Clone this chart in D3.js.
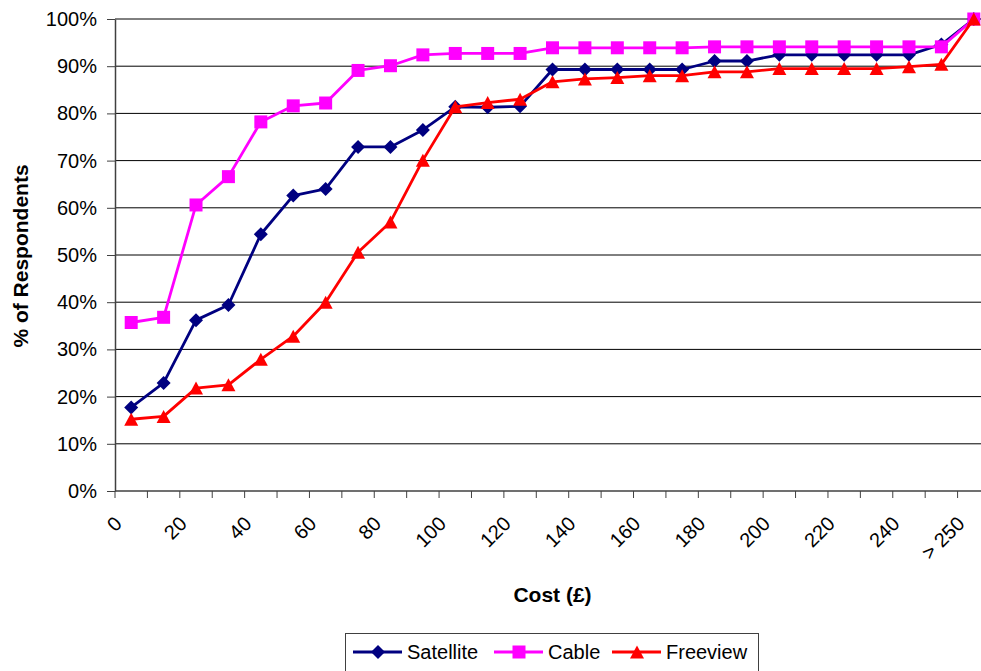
<!DOCTYPE html>
<html>
<head>
<meta charset="utf-8">
<script src="https://cdn.jsdelivr.net/npm/d3@7"></script>
<style>
  body { margin: 0; background: #fff; }
  svg { display: block; font-family: Arial, "Liberation Sans", sans-serif; }
</style>
</head>
<body>
<div id="chart"></div>
<script>
// categories on the cost axis (every other one gets a label)
var categories = ["0","10","20","30","40","50","60","70","80","90","100","110","120","130",
  "140","150","160","170","180","190","200","210","220","230","240","250","> 250"];

var satellite = [17.7, 22.9, 36.2, 39.4, 54.4, 62.6, 64.0, 72.9, 72.9, 76.5, 81.4, 81.3, 81.5,
  89.3, 89.3, 89.3, 89.3, 89.3, 91.1, 91.1, 92.4, 92.4, 92.4, 92.4, 92.4, 94.6, 100];
var cable = [35.7, 36.8, 60.6, 66.6, 78.2, 81.6, 82.2, 89.1, 90.1, 92.4, 92.7, 92.7, 92.7,
  93.9, 93.9, 93.9, 93.9, 93.9, 94.1, 94.1, 94.1, 94.1, 94.1, 94.1, 94.1, 94.1, 100];
var freeview = [15.2, 15.8, 21.8, 22.5, 27.9, 32.8, 40.0, 50.6, 57.0, 70.1, 81.4, 82.3, 83.0,
  86.7, 87.3, 87.6, 88.0, 88.0, 88.8, 88.8, 89.5, 89.5, 89.5, 89.5, 89.9, 90.4, 100];

var seriesNames = ["Satellite", "Cable", "Freeview"];
var yTicks = [0, 10, 20, 30, 40, 50, 60, 70, 80, 90, 100];

var width = 981, height = 671;
var plot = {left: 115, top: 19, right: 990, bottom: 491};

var colors = {Satellite: "#000080", Cable: "#FF00FF", Freeview: "#FF0000"};

// marker shapes, drawn around (0,0)
var markers = {
  Satellite: "M0,-7L7,0L0,7L-7,0Z",
  Cable: "M-6.5,-6.5L6.5,-6.5L6.5,6.5L-6.5,6.5Z",
  Freeview: "M0,-6.5L7,6.5L-7,6.5Z"
};

var series = [
  {name: "Satellite", values: satellite},
  {name: "Cable", values: cable},
  {name: "Freeview", values: freeview}
];

var x = d3.scaleBand().domain(categories).range([plot.left, plot.right]).padding(0);
var y = d3.scaleLinear().domain([0, 100]).range([plot.bottom, plot.top]);

function cx(c) { return x(c) + x.bandwidth() / 2; }

var svg = d3.select("#chart").append("svg")
  .attr("width", width)
  .attr("height", height);

// horizontal gridlines
svg.append("g").selectAll("line")
  .data(yTicks.slice(1))
  .enter().append("line")
  .attr("x1", plot.left).attr("x2", plot.right)
  .attr("y1", function (d) { return y(d); })
  .attr("y2", function (d) { return y(d); })
  .attr("stroke", "#000")
  .attr("stroke-width", 1);

// y axis
var yAxis = svg.append("g")
  .attr("transform", "translate(" + plot.left + ",0)")
  .call(d3.axisLeft(y).tickValues(yTicks).tickFormat(function (d) { return d + "%"; })
    .tickSizeInner(8).tickSizeOuter(0).tickPadding(10));
yAxis.select(".domain").attr("stroke", "#404040").attr("stroke-width", 1.5);
yAxis.selectAll(".tick line").attr("stroke", "#404040");
yAxis.selectAll("text").attr("font-size", 20).attr("fill", "#000")
  .attr("font-family", "Arial, 'Liberation Sans', sans-serif");

// x axis - ticks sit on category boundaries
var xAxis = svg.append("g");
xAxis.append("line")
  .attr("x1", plot.left).attr("x2", plot.right)
  .attr("y1", plot.bottom).attr("y2", plot.bottom)
  .attr("stroke", "#404040").attr("stroke-width", 1.5);
xAxis.selectAll(".xtick")
  .data(categories.map(function (c) { return x(c); }).concat([plot.right]))
  .enter().append("line")
  .attr("class", "xtick")
  .attr("x1", function (d) { return d; }).attr("x2", function (d) { return d; })
  .attr("y1", plot.bottom).attr("y2", plot.bottom + 7)
  .attr("stroke", "#404040");
xAxis.selectAll(".xlabel")
  .data(categories.filter(function (c, i) { return i % 2 === 0; }))
  .enter().append("text")
  .attr("class", "xlabel")
  .attr("transform", function (c) { return "translate(" + (cx(c) - 8) + "," + (plot.bottom + 34) + ") rotate(-45)"; })
  .attr("text-anchor", "end")
  .attr("font-size", 20)
  .text(function (c) { return c; });

// axis titles
svg.append("text")
  .attr("transform", "translate(28," + ((plot.top + plot.bottom) / 2 + 1) + ") rotate(-90)")
  .attr("text-anchor", "middle")
  .attr("font-size", 21)
  .attr("font-weight", "bold")
  .text("% of Respondents");

svg.append("text")
  .attr("x", (plot.left + plot.right) / 2)
  .attr("y", 602)
  .attr("text-anchor", "middle")
  .attr("font-size", 21)
  .attr("font-weight", "bold")
  .text("Cost (£)");

// lines and markers
var line = d3.line()
  .x(function (d, i) { return cx(categories[i]); })
  .y(function (d) { return y(d); });

var groups = svg.selectAll(".series")
  .data(series)
  .enter().append("g")
  .attr("class", "series");

groups.append("path")
  .attr("d", function (s) { return line(s.values); })
  .attr("fill", "none")
  .attr("stroke", function (s) { return colors[s.name]; })
  .attr("stroke-width", 2.8)
  .attr("stroke-linejoin", "round");

groups.each(function (s) {
  d3.select(this).selectAll(".marker")
    .data(s.values)
    .enter().append("path")
    .attr("class", "marker")
    .attr("d", markers[s.name])
    .attr("transform", function (d, i) { return "translate(" + cx(categories[i]) + "," + y(d) + ")"; })
    .attr("fill", colors[s.name]);
});

// legend
var legend = svg.append("g");
legend.append("rect")
  .attr("x", 345.5).attr("y", 633.5)
  .attr("width", 413).attr("height", 60)
  .attr("fill", "#fff")
  .attr("stroke", "#404040");

var legendX = [353, 494, 612];
var legendItem = legend.selectAll(".item")
  .data(seriesNames)
  .enter().append("g")
  .attr("class", "item")
  .attr("transform", function (d, i) { return "translate(" + legendX[i] + ",652)"; });
legendItem.append("line")
  .attr("x1", 0).attr("x2", 49)
  .attr("stroke", function (d) { return colors[d]; })
  .attr("stroke-width", 2.8);
legendItem.append("path")
  .attr("d", function (d) { return markers[d]; })
  .attr("transform", "translate(25,0)")
  .attr("fill", function (d) { return colors[d]; });
legendItem.append("text")
  .attr("x", 54).attr("y", 7)
  .attr("font-size", 20)
  .text(function (d) { return d; });
</script>
</body>
</html>
